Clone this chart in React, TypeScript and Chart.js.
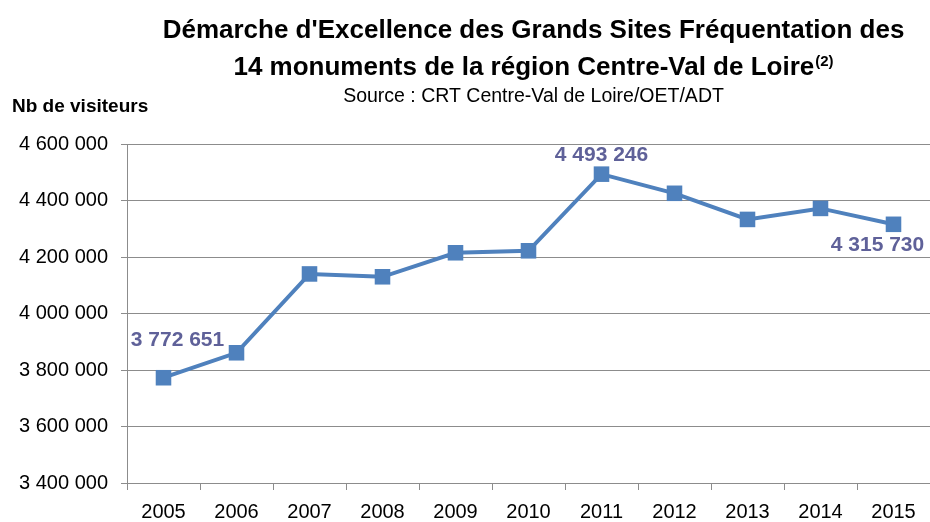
import React, { useEffect, useRef } from "react";
import { Chart, registerables } from "chart.js";

Chart.register(...registerables);

const years = ["2005", "2006", "2007", "2008", "2009", "2010", "2011", "2012", "2013", "2014", "2015"];
const visitors = [3772651, 3861000, 4140000, 4130000, 4215000, 4222000, 4493246, 4425500, 4333000, 4372000, 4315730];
const labeledYears = ["2005", "2011", "2015"];
const yMin = 3400000;
const yMax = 4600000;
const yStep = 200000;
const titleLine1 = "Démarche d'Excellence des Grands Sites Fréquentation des";
const titleLine2 = "14 monuments de la région Centre-Val de Loire";
const titleSup = "(2)";
const subtitle = "Source : CRT Centre-Val de Loire/OET/ADT";
const yAxisTitle = "Nb de visiteurs";

const FONT = "'Liberation Sans', Arial, sans-serif";
const LINE = "#4F81BD";
const LABEL = "#5F6199";
const GRID = "#8C8C8C";

const fmt = (n: number) => Math.round(n).toString().replace(/\B(?=(\d{3})+(?!\d))/g, " ");

const overlay = {
  id: "overlay",
  afterDatasetsDraw(chart: any) {
    const ctx = chart.ctx as CanvasRenderingContext2D;
    const area = chart.chartArea;
    const cx = (area.left + area.right) / 2 + 5;
    ctx.save();
    ctx.fillStyle = "#000";
    ctx.textAlign = "center";
    ctx.textBaseline = "alphabetic";
    ctx.font = `bold 26px ${FONT}`;
    ctx.fillText(titleLine1, cx, 38);
    const w2 = ctx.measureText(titleLine2).width;
    ctx.font = `bold 15px ${FONT}`;
    const ws = ctx.measureText(titleSup).width;
    const start = cx - (w2 + ws + 1) / 2;
    ctx.textAlign = "left";
    ctx.font = `bold 26px ${FONT}`;
    ctx.fillText(titleLine2, start, 75);
    ctx.font = `bold 15px ${FONT}`;
    ctx.fillText(titleSup, start + w2 + 1, 66);
    ctx.textAlign = "center";
    ctx.font = `19.5px ${FONT}`;
    ctx.fillText(subtitle, cx, 102);
    ctx.textAlign = "left";
    ctx.font = `bold 19px ${FONT}`;
    ctx.fillText(yAxisTitle, 12, 112);

    const meta = chart.getDatasetMeta(0);
    ctx.font = `bold 21px ${FONT}`;
    ctx.fillStyle = LABEL;
    ctx.textAlign = "center";
    ctx.textBaseline = "middle";
    labeledYears.forEach((yr) => {
      const i = years.indexOf(yr);
      const pt = meta.data[i];
      let dx = 0;
      let dy = -19;
      if (i === 0) { dx = 14; dy = -38; }
      if (i === years.length - 1) { dx = -16; dy = 21; }
      ctx.fillText(fmt(visitors[i]), pt.x + dx, pt.y + dy);
    });
    ctx.restore();
  },
};

export default function App() {
  const ref = useRef<HTMLCanvasElement>(null);
  useEffect(() => {
    if (!ref.current) return;
    const chart = new Chart(ref.current, {
      type: "line",
      data: {
        labels: years,
        datasets: [
          {
            data: visitors,
            borderColor: LINE,
            backgroundColor: LINE,
            borderWidth: 4,
            pointStyle: "rect",
            pointRadius: 11,
            pointHoverRadius: 11,
            pointBorderWidth: 0,
            pointBackgroundColor: LINE,
            tension: 0,
            clip: false,
          },
        ],
      },
      options: {
        responsive: false,
        animation: false,
        events: [],
        layout: { autoPadding: false, padding: { top: 144, left: 0, right: 0, bottom: 0 } },
        plugins: { legend: { display: false }, title: { display: false }, tooltip: { enabled: false } },
        scales: {
          x: {
            type: "category",
            offset: true,
            grid: { offset: true, drawOnChartArea: false, drawTicks: true, tickLength: 7, color: GRID },
            border: { display: true, color: GRID },
            ticks: { font: { family: FONT, size: 20 }, color: "#000", padding: 10, maxRotation: 0, autoSkip: false },
            afterFit: (s: any) => { s.height = 39; s.paddingLeft = 0; s.paddingRight = 0; },
          },
          y: {
            min: yMin,
            max: yMax,
            grid: { color: GRID, tickLength: 6 },
            border: { display: true, color: GRID },
            ticks: {
              stepSize: yStep,
              font: { family: FONT, size: 20 },
              color: "#000",
              padding: 13,
              callback: (v: any) => fmt(Number(v)),
            },
            afterFit: (s: any) => { s.width = 127; s.paddingTop = 0; s.paddingBottom = 0; },
          },
        },
      },
      plugins: [overlay],
    });
    return () => chart.destroy();
  }, []);
  return (
    <div style={{ position: "absolute", left: 0, top: 0, width: 930, height: 522, background: "#fff" }}>
      <canvas ref={ref} width={930} height={522} />
    </div>
  );
}
